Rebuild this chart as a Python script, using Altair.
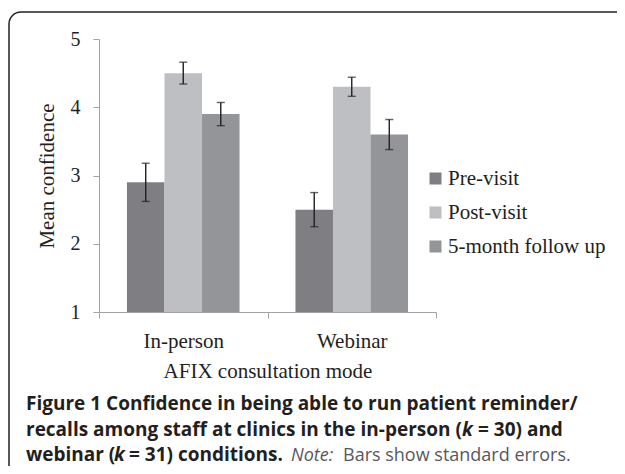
import altair as alt
import pandas as pd

modes = ["In-person", "Webinar"]
phases = ["Pre-visit", "Post-visit", "5-month follow up"]
colors = ["#7f7f83", "#bebfc2", "#939598"]

# mean confidence per phase, for each mode
means_inperson = [2.9, 4.5, 3.9]
means_webinar = [2.5, 4.3, 3.6]
# standard errors
se_inperson = [0.28, 0.16, 0.17]
se_webinar = [0.25, 0.14, 0.22]

rows = []
for mode, ms, ss in [("In-person", means_inperson, se_inperson), ("Webinar", means_webinar, se_webinar)]:
    for p, m, s in zip(phases, ms, ss):
        rows.append({"mode": mode, "phase": p, "mean": m, "lo": m - s, "hi": m + s})
df = pd.DataFrame(rows)

INK = "#231f20"
AXC = "#a3a3a3"
SERIF = "Liberation Serif"
SANS = "Open Sans"

xenc = alt.X("mode:N", sort=modes, scale=alt.Scale(paddingInner=0, paddingOuter=0),
             axis=alt.Axis(title="AFIX consultation mode", tickBand="extent", labelAngle=0,
                           labelFont=SERIF, labelFontSize=21, labelColor=INK,
                           labelBaseline="alphabetic", labelPadding=29,
                           titleFont=SERIF, titleFontSize=21, titleColor=INK, titleFontWeight="normal",
                           titleBaseline="alphabetic", titleY=65,
                           domainColor=AXC, tickColor=AXC, tickSize=6))
xoff = alt.XOffset("phase:N", sort=phases, scale=alt.Scale(paddingOuter=0.745, paddingInner=0))
yscale = alt.Scale(domain=[1, 5], nice=False, zero=False)

base = alt.Chart(df)
bars = base.mark_bar().encode(
    x=xenc,
    xOffset=xoff,
    y=alt.Y("mean:Q", scale=yscale,
            axis=alt.Axis(values=[1, 2, 3, 4, 5], format="d", grid=False, title="Mean confidence",
                          labelFont=SERIF, labelFontSize=20, labelColor=INK, labelPadding=13,
                          titleFont=SERIF, titleFontSize=21, titleColor=INK, titleFontWeight="normal",
                          titleX=-46, titleY=136.5, titleAngle=-90, titleBaseline="alphabetic",
                          titleAlign="center",
                          domainColor=AXC, tickColor=AXC, tickSize=6)),
    y2=alt.datum(1),
    color=alt.Color("phase:N", sort=phases, scale=alt.Scale(domain=phases, range=colors),
                    legend=alt.Legend(title=None, orient="none", legendX=326, legendY=129,
                                      padding=0, symbolType="square", symbolSize=144,
                                      symbolStrokeWidth=0,
                                      labelFont=SERIF, labelFontSize=21, labelColor=INK,
                                      labelOffset=2, rowPadding=12, labelLimit=300)),
)
rules = base.mark_rule(color=INK, strokeWidth=1.4).encode(
    x=alt.X("mode:N", sort=modes), xOffset=alt.XOffset("phase:N", sort=phases),
    y=alt.Y("lo:Q"), y2="hi:Q")
caps_lo = base.mark_tick(color=INK, thickness=1.4, size=8).encode(
    x=alt.X("mode:N", sort=modes), xOffset=alt.XOffset("phase:N", sort=phases), y=alt.Y("lo:Q"))
caps_hi = base.mark_tick(color=INK, thickness=1.4, size=8).encode(
    x=alt.X("mode:N", sort=modes), xOffset=alt.XOffset("phase:N", sort=phases), y=alt.Y("hi:Q"))

one = alt.Chart(pd.DataFrame({"a": [0]}))
frame = one.mark_rect(fillOpacity=0, stroke=INK, strokeWidth=1.5, cornerRadius=12).encode(
    x=alt.value(-90), x2=alt.value(900), y=alt.value(-27), y2=alt.value(700))

def seg(text, x, y, weight="bold", style="normal", color=INK, size=19):
    return one.mark_text(font=SANS, fontSize=size, fontWeight=weight, fontStyle=style,
                         color=color, align="left", baseline="alphabetic").encode(
        x=alt.value(x), y=alt.value(y), text=alt.value(text))

caption = [
    seg("Figure 1 Confidence in being able to run patient reminder/", -73, 371),
    seg("recalls among staff at clinics in the in-person (", -73, 397),
    seg("k", 363, 397, style="italic"),
    seg("= 30) and", 379, 397),
    seg("webinar (", -73, 422),
    seg("k", 15, 422, style="italic"),
    seg("= 31) conditions.", 30, 422),
    seg("Note:", 192, 422, weight="normal", style="italic", color="#58585a", size=18),
    seg("Bars show standard errors.", 244, 422, weight="normal", color="#58585a", size=18),
]

chart = alt.layer(frame, bars, rules, caps_lo, caps_hi, *caption).properties(
    width=337, height=273,
    autosize=alt.AutoSizeParams(type="none"),
    padding={"left": 91, "top": 31, "right": 181, "bottom": 154},
).configure_view(stroke=None)

chart.save("out.html", embed_options={"renderer": "svg", "actions": False})
